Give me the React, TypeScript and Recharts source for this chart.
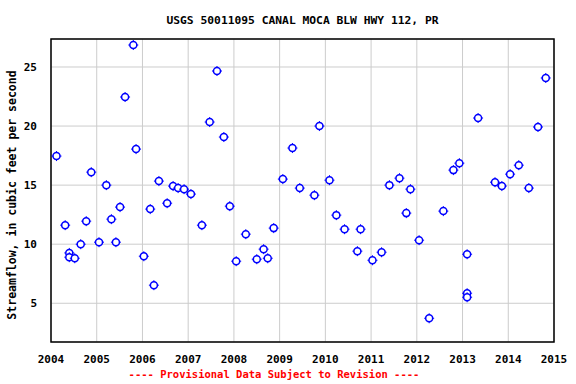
import { ScatterChart, Scatter, XAxis, YAxis, CartesianGrid, ReferenceArea } from "recharts";

// decimal year of each measurement
const years = [
  2004.12, 2004.31, 2004.4, 2004.4, 2004.52, 2004.65, 2004.77, 2004.88, 2005.05, 2005.21,
  2005.32, 2005.42, 2005.51, 2005.62, 2005.8, 2005.86, 2006.03, 2006.17, 2006.25, 2006.36,
  2006.54, 2006.67, 2006.78, 2006.91, 2007.06, 2007.3, 2007.47, 2007.63, 2007.78, 2007.91,
  2008.05, 2008.26, 2008.5, 2008.65, 2008.74, 2008.87, 2009.07, 2009.28, 2009.44, 2009.76,
  2009.87, 2010.09, 2010.24, 2010.42, 2010.7, 2010.77, 2011.03, 2011.23, 2011.4, 2011.62,
  2011.77, 2011.86, 2012.05, 2012.27, 2012.58, 2012.8, 2012.93, 2013.1, 2013.1, 2013.1,
  2013.34, 2013.71, 2013.86, 2014.04, 2014.23, 2014.45, 2014.65, 2014.82,
];

// streamflow, cubic feet per second
const flows = [
  17.46, 11.61, 9.26, 8.9, 8.81, 10.0, 11.95, 16.1, 10.17, 15.0,
  12.12, 10.17, 13.14, 22.46, 26.86, 18.05, 8.98, 12.97, 6.53, 15.34,
  13.47, 14.92, 14.75, 14.66, 14.24, 11.61, 20.34, 24.66, 19.07, 13.22,
  8.56, 10.85, 8.73, 9.58, 8.81, 11.36, 15.51, 18.14, 14.75, 14.15,
  20.0, 15.42, 12.46, 11.27, 9.41, 11.27, 8.64, 9.32, 15.0, 15.59,
  12.63, 14.66, 10.34, 3.73, 12.8, 16.27, 16.86, 9.15, 5.85, 5.51,
  20.68, 15.25, 14.92, 15.93, 16.69, 14.75, 19.92, 24.07,
];

const yearTicks = [2004, 2005, 2006, 2007, 2008, 2009, 2010, 2011, 2012, 2013, 2014, 2015];
const flowTicks = [5, 10, 15, 20, 25];

const data = years.map((y, i) => ({ year: y, flow: flows[i] }));

const FONT = "'DejaVu Sans Mono', 'Liberation Mono', monospace";

const Marker = (props: any) => {
  const { cx, cy } = props;
  return (
    <g>
      <line x1={cx} y1={cy - 5} x2={cx} y2={cy + 5} stroke="#0000ff" strokeWidth={1} />
      <line x1={cx - 5} y1={cy} x2={cx + 5} y2={cy} stroke="#0000ff" strokeWidth={1} />
      <circle cx={cx} cy={cy} r={3.5} fill="#fff" stroke="#0000ff" strokeWidth={1.5} />
    </g>
  );
};

export default function App() {
  return (
    <div style={{ position: "absolute", left: 0, top: 0, width: 576, height: 384, background: "#fff", fontFamily: FONT }}>
      <div
        style={{
          position: "absolute",
          left: 51,
          width: 503,
          top: 14,
          textAlign: "center",
          fontSize: 11.3,
          lineHeight: "13px",
          fontWeight: "bold",
          whiteSpace: "pre",
        }}
      >
        USGS 50011095 CANAL MOCA BLW HWY 112, PR
      </div>
      <div
        style={{
          position: "absolute",
          left: 12,
          top: 195,
          transform: "translate(-50%, -50%) rotate(-90deg)",
          fontSize: 11.5,
          fontWeight: "bold",
          whiteSpace: "pre",
        }}
      >
        Streamflow, in cubic feet per second
      </div>
      <div
        style={{
          position: "absolute",
          left: 124,
          width: 300,
          top: 368,
          textAlign: "center",
          fontSize: 10.5,
          lineHeight: "13px",
          fontWeight: "bold",
          color: "#ff0000",
          whiteSpace: "pre",
        }}
      >
        ---- Provisional Data Subject to Revision ----
      </div>
      <ScatterChart width={576} height={384} margin={{ top: 39, right: 22, bottom: 0, left: 0 }}>
        <CartesianGrid stroke="#cccccc" strokeWidth={1} />
        <XAxis
          type="number"
          dataKey="year"
          domain={[2004, 2015]}
          ticks={yearTicks}
          allowDataOverflow
          height={42}
          axisLine={false}
          tickLine={false}
          tickMargin={7}
          tick={{ fill: "#000", fontSize: 11, fontWeight: "bold", fontFamily: FONT }}
        />
        <YAxis
          type="number"
          dataKey="flow"
          domain={[1.72, 27.37]}
          ticks={flowTicks}
          allowDataOverflow
          width={51}
          axisLine={false}
          tickLine={false}
          tickMargin={8}
          tick={{ fill: "#000", fontSize: 11, fontWeight: "bold", fontFamily: FONT }}
        />
        <ReferenceArea x1={2004} x2={2015} y1={1.72} y2={27.37} fill="none" stroke="#000" strokeWidth={1.5} />
        <Scatter data={data} shape={Marker} isAnimationActive={false} />
      </ScatterChart>
    </div>
  );
}
